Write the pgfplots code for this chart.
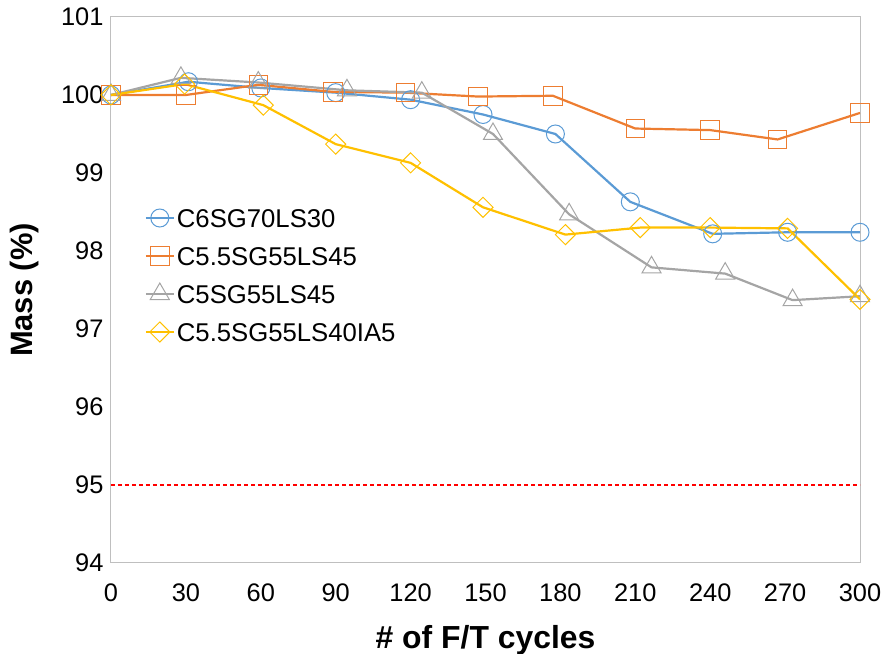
\documentclass[border=0pt]{standalone}
\usepackage{fontspec}
\setmainfont{Liberation Sans}
\usepackage{pgfplots}
\usetikzlibrary{calc}
\pgfplotsset{compat=1.18}
\definecolor{cblue}{HTML}{5B9BD5}
\definecolor{corange}{HTML}{ED7D31}
\definecolor{cgray}{HTML}{A5A5A5}
\definecolor{cyellow}{HTML}{FFC000}
\definecolor{cframe}{HTML}{BFBFBF}
\begin{document}
\begin{tikzpicture}
\begin{axis}[
  name=ax,
  scale only axis,
  width=749bp, height=546bp,
  xmin=0, xmax=300, ymin=94, ymax=101,
  xtick={0,30,...,300}, ytick={94,95,...,101},
  major tick length=0pt,
  axis line style={cframe, line width=1bp},
  /pgf/number format/assume math mode=true,
  tick label style={font=\fontsize{25.5}{25.5}\selectfont, text=black},
  xticklabel style={yshift=-17bp},
  yticklabel style={xshift=-4bp},
  xlabel={\textbf{\# of F/T cycles}},
  ylabel={\textbf{Mass (\%)}},
  xlabel style={font=\fontsize{32}{32}\selectfont, at={(axis description cs:0.5,-0.1557)}, anchor=base},
  ylabel style={font=\fontsize{31}{31}\selectfont, at={(axis description cs:-0.1148,0.5)}, anchor=center},
  legend style={draw=none, fill=none, font=\fontsize{25.8}{25.8}\selectfont,
    at={(0.045,0.652)}, anchor=north west, inner sep=0pt, outer sep=0pt,
    row sep=16bp, nodes={text height=18bp, text depth=0bp, inner sep=2bp},
    cells={anchor=west}},
  legend image code/.code={\draw[mark repeat=2,mark phase=2] plot coordinates {(0bp,0bp) (14bp,0bp) (28bp,0bp)};},
  every axis plot/.append style={line width=2.2bp},
]
\addplot[cblue, mark=o, mark size=9bp, mark options={line width=1bp, fill=none}] coordinates {
(0,100.00) (31,100.17) (60,100.09) (90,100.03) (120,99.94) (149,99.75) (178,99.50) (208,98.63) (241,98.22) (271,98.24) (300,98.24)};
\addlegendentry{C6SG70LS30}
\addplot[corange, mark=square, mark size=9.3bp, mark options={line width=1bp, fill=none}] coordinates {
(0,100.00) (30,100.00) (59,100.13) (89,100.04) (118,100.03) (147,99.98) (177,99.99) (210,99.57) (240,99.55) (267,99.43) (300,99.77)};
\addlegendentry{C5.5SG55LS45}
\addplot[cgray, mark=triangle, mark size=11bp, mark options={line width=1bp, fill=none}] coordinates {
(0,100.00) (28,100.22) (59,100.16) (94.5,100.06) (124.5,100.03) (153,99.50) (183.5,98.47) (216.5,97.79) (246,97.71) (273,97.37) (300,97.42)};
\addlegendentry{C5SG55LS45}
\addplot[cyellow, mark=square, mark size=7.1bp, mark options={line width=1bp, fill=none, rotate=45}] coordinates {
(0,100.00) (29.5,100.14) (61,99.87) (90,99.37) (120,99.13) (149,98.56) (182,98.21) (212,98.30) (240,98.30) (271,98.29) (300,97.38)};
\addlegendentry{C5.5SG55LS40IA5}
\addplot[red, line width=1.3bp, dash pattern=on 4bp off 3bp, forget plot] coordinates {(0,95) (300,95)};
\end{axis}
\pgfresetboundingbox
\path ($(ax.south west)+(-111bp,-91bp)$) rectangle ($(ax.north east)+(28bp,17bp)$);
\end{tikzpicture}
\end{document}
